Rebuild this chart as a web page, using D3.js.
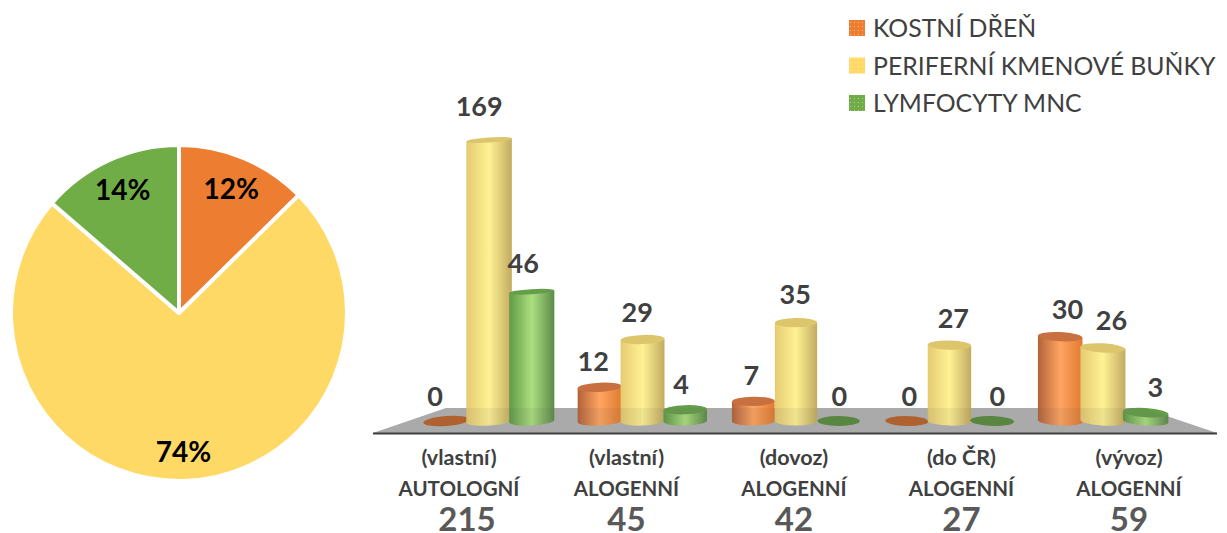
<!DOCTYPE html>
<html><head><meta charset="utf-8">
<script src="https://cdn.jsdelivr.net/npm/d3@7/dist/d3.min.js"></script>
<style>html,body{margin:0;padding:0;background:#fff}svg{display:block}text{font-family:Lato,"Open Sans",sans-serif}</style>
</head><body><svg id="c" width="1227" height="533"></svg>
<script>
const groups = ["AUTOLOGNÍ (vlastní)","ALOGENNÍ (vlastní)","ALOGENNÍ (dovoz)","ALOGENNÍ (do ČR)","ALOGENNÍ (vývoz)"];
const groupTop = ["(vlastní)","(vlastní)","(dovoz)","(do ČR)","(vývoz)"];
const groupName = ["AUTOLOGNÍ","ALOGENNÍ","ALOGENNÍ","ALOGENNÍ","ALOGENNÍ"];
const groupTotals = [215,45,42,27,59];
const seriesNames = ["KOSTNÍ DŘEŇ","PERIFERNÍ KMENOVÉ BUŇKY","LYMFOCYTY MNC"];
const kostni = [0,12,7,0,30];
const periferni = [169,29,35,27,26];
const lymfocyty = [46,4,0,0,3];
const pieValues = [49,286,53];
const pieLabels = ["12%","74%","14%"];
const seriesKeys = ["o","y","g"];
const palette = {
  o:{pie:"#ED7D31",l:"#b3623a",m:"#ffa562",r:"#e07a30",top:"#c8703f",zero:"#b8622d"},
  y:{pie:"#FFD966",l:"#e6ca72",m:"#fff294",r:"#c2ab60",top:"#dcc56b",zero:"#d8c167"},
  g:{pie:"#70AD47",l:"#5f9a45",m:"#acdf80",r:"#5c8a49",top:"#649e48",zero:"#5a8b3e"}
};
const svg = d3.select("#c");
const defs = svg.append("defs");
seriesKeys.forEach(k=>{
  const p=palette[k];
  const g=defs.append("linearGradient").attr("id","grad-"+k);
  g.append("stop").attr("offset",0).attr("stop-color",p.l);
  g.append("stop").attr("offset",.5).attr("stop-color",p.m);
  g.append("stop").attr("offset",1).attr("stop-color",p.r);
  const pt=defs.append("pattern").attr("id","pat-"+k).attr("width",4).attr("height",4).attr("patternUnits","userSpaceOnUse");
  pt.append("rect").attr("width",4).attr("height",4).attr("fill",p.pie);
  pt.append("rect").attr("width",1).attr("height",1).attr("x",2).attr("y",2).attr("fill","#fff").attr("opacity",.45);
});

// Pie
const pieG = svg.append("g").attr("transform","translate(179,313)");
const arcs = d3.pie().sort(null)(pieValues);
const arc = d3.arc().innerRadius(0).outerRadius(168);
pieG.selectAll("path").data(arcs).join("path").attr("d",arc)
  .attr("fill",(d,i)=>palette[seriesKeys[i]].pie).attr("stroke","#fff").attr("stroke-width",4).attr("stroke-linejoin","round");
const labelArc = d3.arc().innerRadius(135).outerRadius(135);
const labelArcLarge = d3.arc().innerRadius(139).outerRadius(139);
pieG.selectAll("text").data(arcs).join("text")
  .attr("transform",(d,i)=>`translate(${(i==1?labelArcLarge:labelArc).centroid(d)})`)
  .attr("text-anchor","middle").attr("dy","0.36em").attr("font-size",28).attr("font-weight",700).attr("fill","#000")
  .text((d,i)=>pieLabels[i]);

// Scales
const y = d3.scaleLinear().domain([0,100]).range([421,140]).clamp(true);
const x0 = d3.scaleBand().domain(groups).range([425,1167]).paddingInner(.165).paddingOuter(0);
const x1 = d3.scaleBand().domain(seriesKeys).range([0,x0.bandwidth()]);
const xLab = d3.scalePoint().domain(groups).range([459,1129]);
const midX = 820;

// Floor
const floorD = "M446,408L1143,408L1217,433L373,433Z";
svg.append("path").attr("d",floorD).attr("fill","#b3b3b3");

const rows = [];
[kostni,periferni,lymfocyty].forEach((vals,s)=>vals.forEach((v,g)=>rows.push({k:seriesKeys[s],s,g,v})));
rows.sort((a,b)=>a.g-b.g||a.s-b.s);
const bars = svg.append("g");
rows.forEach(d=>{
  const cx = x0(groups[d.g]) + x1(d.k) + x1.bandwidth()/2;
  const rx = 21 + Math.abs(cx-midX)/330*1.8;
  const ry = 4.6;
  const deg = (cx-midX)*0.012;
  const a = deg*Math.PI/180;
  const yt=y(d.v), yb=y(0);
  const dx=rx*Math.cos(a), dy=rx*Math.sin(a);
  const p=palette[d.k];
  if(d.v>0){
    bars.append("path")
      .attr("d",`M${cx-dx},${yt-dy}L${cx-dx},${yb-dy}A${rx},${ry} ${deg} 0 0 ${cx+dx},${yb+dy}L${cx+dx},${yt+dy}Z`)
      .attr("fill",`url(#grad-${d.k})`);
  }
  bars.append("ellipse").attr("cx",cx).attr("cy",yt).attr("rx",rx).attr("ry",d.v>0?(d.v>=46?2.6:ry):5)
    .attr("transform",`rotate(${deg} ${cx} ${yt})`)
    .attr("fill",d.v>0?p.top:p.zero);
});
// Floor tint seen through the cylinders
svg.append("path").attr("d",floorD).attr("fill","#555").attr("opacity",.09);
svg.append("line").attr("x1",373).attr("x2",1217).attr("y1",433.5).attr("y2",433.5).attr("stroke","#3f3f3f").attr("stroke-width",2);

// Value labels
const valueLabels = svg.append("g");
rows.forEach(d=>{
  const cx = x0(groups[d.g]) + x1(d.k) + x1.bandwidth()/2;
  const yt=y(d.v);
  valueLabels.append("text")
    .attr("x",cx+(cx-midX)*0.03).attr("y",yt-25-(421-yt)*0.03)
    .attr("text-anchor","middle").attr("dy","0.36em").attr("font-size",27).attr("font-weight",700).attr("fill","#404040")
    .text(d.v);
});

// Category labels
groups.forEach((g,i)=>{
  const x=xLab(g);
  const t=svg.append("g").attr("text-anchor","middle");
  t.append("text").attr("x",x).attr("y",465).attr("font-size",21.5).attr("font-weight",700).attr("fill","#404040").text(groupTop[i]);
  t.append("text").attr("x",x).attr("y",496).attr("font-size",20.5).attr("font-weight",700).attr("fill","#404040").text(groupName[i]);
  t.append("text").attr("x",i==0?x+8:x).attr("y",531).attr("font-size",33).attr("font-weight",700).attr("fill","#595959").text(groupTotals[i]);
});

// Legend
const legY = d3.scalePoint().domain(seriesNames).range([28,103]);
seriesNames.forEach((n,i)=>{
  svg.append("rect").attr("x",849).attr("y",legY(n)-8).attr("width",16).attr("height",16).attr("fill",`url(#pat-${seriesKeys[i]})`);
  svg.append("text").attr("x",873).attr("y",legY(n)+9).attr("font-size",24.8).attr("fill","#404040").text(n);
});
</script></body></html>
